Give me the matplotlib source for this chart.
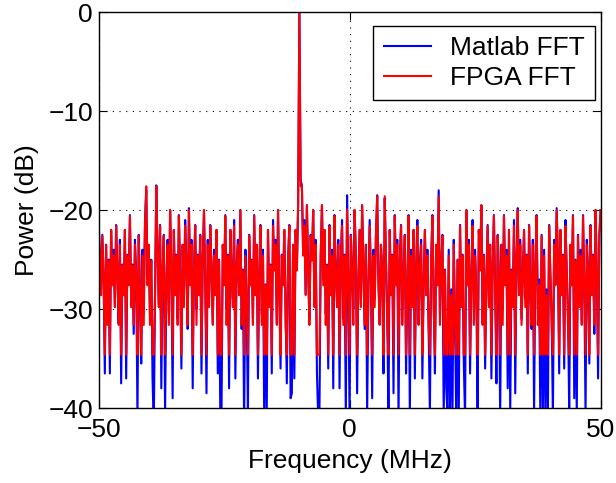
import numpy as np
import matplotlib
matplotlib.use('Agg')
import matplotlib.pyplot as plt

# spectrum, 0.25 MHz bins from -50 to 50 MHz
matlab_db = [
	-21.0, -24.5, -28.0, -22.5, -26.5, -36.5, -23.5, -30.5, -25.0, -36.5, -22.0, -27.5, -24.0, -29.5, -21.5, -26.0, -31.5, -23.0, -37.5, -25.5,
	-28.5, -22.0, -37.0, -24.5, -27.0, -20.5, -29.0, -25.5, -32.5, -23.0, -26.5, -41.0, -22.5, -28.0, -35.5, -24.0, -30.0, -21.0, -18.0, -27.0,
	-23.5, -31.0, -25.0, -37.0, -42.0, -28.5, -17.5, -24.0, -29.5, -21.5, -38.0, -26.0, -22.5, -40.5, -27.5, -23.0, -30.5, -20.0, -25.5, -39.0,
	-22.0, -28.0, -24.5, -31.0, -20.5, -26.5, -36.0, -23.5, -29.0, -21.0, -25.5, -32.0, -19.8, -27.0, -23.0, -38.0, -26.0, -21.5, -30.0, -24.5,
	-28.5, -22.5, -36.5, -25.0, -20.0, -27.5, -38.5, -23.0, -29.5, -21.5, -26.0, -31.5, -24.0, -28.0, -22.0, -36.5, -25.0, -41.0, -40.0, -23.5,
	-27.0, -20.5, -30.0, -24.5, -38.0, -22.0, -26.5, -29.0, -21.0, -37.0, -25.5, -23.0, -28.5, -20.0, -32.0, -26.0, -42.0, -24.0, -29.5, -40.5,
	-22.5, -27.0, -25.0, -31.0, -20.5, -28.0, -23.5, -37.0, -26.5, -21.5, -30.5, -24.0, -41.5, -27.5, -40.5, -22.0, -29.0, -25.5, -36.5, -21.0,
	-26.0, -23.0, -31.5, -20.0, -28.0, -36.0, -24.5, -27.5, -22.0, -30.0, -37.5, -25.0, -21.5, -39.0, -38.5, -23.5, -37.0, -22.0, -26.0, -19.5,
	0.0, -17.0, -17.5, -24.0, -21.0, -28.5, -19.5, -26.0, -31.0, -22.5, -25.0, -20.0, -29.5, -23.0, -36.5, -41.0, -40.5, -24.5, -19.5, -27.0,
	-22.0, -30.5, -25.5, -36.0, -21.5, -28.0, -24.0, -38.0, -20.5, -26.5, -29.0, -23.0, -38.0, -25.0, -21.0, -31.0, -24.5, -41.0, -18.5, -27.5,
	-41.0, -22.5, -26.0, -30.0, -20.0, -24.5, -38.5, -27.0, -22.0, -29.5, -19.5, -25.5, -32.0, -23.5, -40.5, -28.0, -21.0, -26.5, -39.0, -24.0,
	-29.0, -22.5, -18.5, -27.0, -31.5, -23.5, -26.0, -36.5, -18.8, -25.0, -30.5, -41.0, -22.0, -28.5, -24.5, -38.5, -20.5, -27.0, -23.0, -41.0,
	-25.0, -21.5, -30.0, -26.5, -22.5, -36.5, -28.0, -20.5, -41.0, -24.0, -29.5, -22.0, -37.0, -26.0, -21.0, -31.5, -25.5, -23.0, -37.0, -27.5,
	-22.0, -28.5, -24.0, -32.0, -40.5, -25.0, -20.5, -29.0, -36.5, -23.5, -27.0, -18.0, -30.5, -25.5, -22.5, -41.0, -26.0, -38.0, -40.5, -24.0,
	-41.0, -28.0, -40.5, -23.0, -31.0, -41.5, -25.0, -40.5, -21.5, -29.5, -24.5, -35.5, -41.0, -20.0, -27.5, -23.0, -36.5, -26.5, -21.0, -30.0,
	-24.0, -28.5, -40.5, -22.0, -26.0, -19.5, -31.5, -24.5, -36.0, -27.0, -21.5, -29.0, -23.5, -37.0, -25.5, -20.5, -28.0, -37.5, -22.5, -26.5,
	-41.0, -23.5, -30.0, -20.5, -27.0, -24.0, -38.0, -22.0, -40.5, -26.0, -29.5, -21.0, -38.5, -25.0, -19.8, -28.5, -23.0, -31.0, -26.5, -22.0,
	-29.0, -24.5, -36.5, -21.5, -27.5, -32.0, -23.0, -40.5, -25.5, -20.5, -30.0, -27.0, -41.0, -22.5, -40.5, -24.0, -41.0, -28.0, -41.0, -21.5,
	-26.5, -30.5, -41.0, -23.0, -27.5, -19.8, -25.0, -36.5, -22.0, -28.5, -24.5, -36.0, -21.0, -26.0, -30.0, -40.5, -23.5, -27.0, -20.5, -39.0,
	-25.0, -41.0, -22.5, -29.0, -24.0, -31.5, -20.5, -27.5, -40.5, -23.0, -26.0, -35.5, -21.5, -28.0, -24.5, -32.5, -20.0, -26.5, -37.0, -22.5,
	-20.0,
]

fpga_db = [
	-21.6, -24.6, -28.6, -22.6, -26.8, -34.6, -23.5, -31.6, -25.1, -34.6, -22.0, -27.6, -24.6, -29.8, -21.6, -26.1, -31.6, -23.5, -34.6, -25.6,
	-28.6, -22.0, -34.6, -24.6, -27.6, -20.6, -29.8, -25.6, -31.6, -23.5, -26.8, -34.6, -22.6, -28.6, -34.6, -24.6, -31.6, -21.6, -17.6, -27.6,
	-23.5, -31.6, -25.1, -34.6, -34.6, -28.6, -17.6, -24.6, -29.8, -21.6, -34.6, -26.1, -22.6, -34.6, -27.6, -23.5, -31.6, -20.0, -25.6, -34.6,
	-22.0, -28.6, -24.6, -31.6, -20.6, -26.8, -34.6, -23.5, -29.8, -21.6, -25.6, -31.6, -20.0, -27.6, -23.5, -34.6, -26.1, -21.6, -31.6, -24.6,
	-28.6, -22.6, -34.6, -25.1, -20.0, -27.6, -34.6, -23.5, -29.8, -21.6, -26.1, -31.6, -24.6, -28.6, -22.0, -34.6, -25.1, -34.6, -34.6, -23.5,
	-27.6, -20.6, -31.6, -24.6, -34.6, -22.0, -26.8, -29.8, -21.6, -34.6, -25.6, -23.5, -28.6, -20.0, -31.6, -26.1, -34.6, -24.6, -29.8, -34.6,
	-22.6, -27.6, -25.1, -31.6, -20.6, -28.6, -23.5, -34.6, -26.8, -21.6, -31.6, -24.6, -34.6, -27.6, -34.6, -22.0, -29.8, -25.6, -34.6, -21.6,
	-26.1, -23.5, -31.6, -20.0, -28.6, -34.6, -24.6, -27.6, -22.0, -31.6, -34.6, -25.1, -21.6, -34.6, -34.6, -23.5, -34.6, -22.0, -26.1, -19.5,
	0.0, -17.6, -17.6, -24.6, -21.6, -28.6, -19.5, -26.1, -31.6, -22.6, -25.1, -20.0, -29.8, -23.5, -34.6, -34.6, -34.6, -24.6, -19.5, -27.6,
	-22.0, -31.6, -25.6, -34.6, -21.6, -28.6, -24.6, -34.6, -20.6, -26.8, -29.8, -23.5, -34.6, -25.1, -21.6, -31.6, -24.6, -34.6, -20.0, -27.6,
	-34.6, -22.6, -26.1, -31.6, -20.0, -24.6, -34.6, -27.6, -22.0, -29.8, -19.5, -25.6, -31.6, -23.5, -34.6, -28.6, -21.6, -26.8, -34.6, -24.6,
	-29.8, -22.6, -18.6, -27.6, -31.6, -23.5, -26.1, -34.6, -18.6, -25.1, -31.6, -34.6, -22.0, -28.6, -24.6, -34.6, -20.6, -27.6, -23.5, -34.6,
	-25.1, -21.6, -31.6, -26.8, -22.6, -34.6, -28.6, -20.6, -34.6, -24.6, -29.8, -22.0, -34.6, -26.1, -21.6, -31.6, -25.6, -23.5, -34.6, -27.6,
	-22.0, -28.6, -24.6, -31.6, -34.6, -25.1, -20.6, -29.8, -34.6, -23.5, -27.6, -18.6, -31.6, -25.6, -22.6, -34.6, -26.1, -34.6, -34.6, -24.6,
	-34.6, -28.6, -34.6, -23.5, -31.6, -34.6, -25.1, -34.6, -21.6, -29.8, -24.6, -34.6, -34.6, -20.0, -27.6, -23.5, -34.6, -26.8, -21.6, -31.6,
	-24.6, -28.6, -34.6, -22.0, -26.1, -19.5, -31.6, -24.6, -34.6, -27.6, -21.6, -29.8, -23.5, -34.6, -25.6, -20.6, -28.6, -34.6, -22.6, -26.8,
	-34.6, -23.5, -31.6, -20.6, -27.6, -24.6, -34.6, -22.0, -34.6, -26.1, -29.8, -21.6, -34.6, -25.1, -20.0, -28.6, -23.5, -31.6, -26.8, -22.0,
	-29.8, -24.6, -34.6, -21.6, -27.6, -31.6, -23.5, -34.6, -25.6, -20.6, -31.6, -27.6, -34.6, -22.6, -34.6, -24.6, -34.6, -28.6, -34.6, -21.6,
	-26.8, -31.6, -34.6, -23.5, -27.6, -20.0, -25.1, -34.6, -22.0, -28.6, -24.6, -34.6, -21.6, -26.1, -31.6, -34.6, -23.5, -27.6, -20.6, -34.6,
	-25.1, -34.6, -22.6, -29.8, -24.6, -31.6, -20.6, -27.6, -34.6, -23.5, -26.1, -34.6, -21.6, -28.6, -24.6, -31.6, -20.0, -26.8, -34.6, -22.6,
	-20.0,
]

freq = np.linspace(-50, 50, len(matlab_db))

plt.rcParams['font.family'] = ['Liberation Sans', 'DejaVu Sans']
plt.rcParams['font.size'] = 19

fig = plt.figure(figsize=(6.16, 4.83), dpi=100)
ax = fig.add_axes([0.16, 0.155, 0.815, 0.82])

ax.plot(freq, matlab_db, color='#0000ff', lw=1.5, label='Matlab FFT')
ax.plot(freq, fpga_db, color='#ff0000', lw=1.5, label='FPGA FFT')

ax.set_xlim(-50, 50)
ax.set_ylim(-40, 0)
ax.set_xticks([-50, 0, 50])
ax.set_yticks([-40, -30, -20, -10, 0])
ax.grid(True, color='black', linestyle=(0, (1, 5)), lw=0.8)
ax.tick_params(direction='in', top=True, right=True, length=6, width=0.8, pad=4)
ax.tick_params(axis='x', pad=7)
for s in ax.spines.values():
	s.set_linewidth(1.0)

ax.set_xlabel('Frequency (MHz)', labelpad=5)
ax.set_ylabel('Power (dB)', labelpad=7)

leg = ax.legend(loc='upper right', fancybox=False, framealpha=1, edgecolor='black',
	handlelength=1.8, borderpad=0.4, labelspacing=0.2, handletextpad=0.7,
	borderaxespad=0, bbox_to_anchor=(0.989, 0.965), fontsize=19)
leg.get_frame().set_linewidth(1.0)

fig.savefig('out.png', dpi=100)
